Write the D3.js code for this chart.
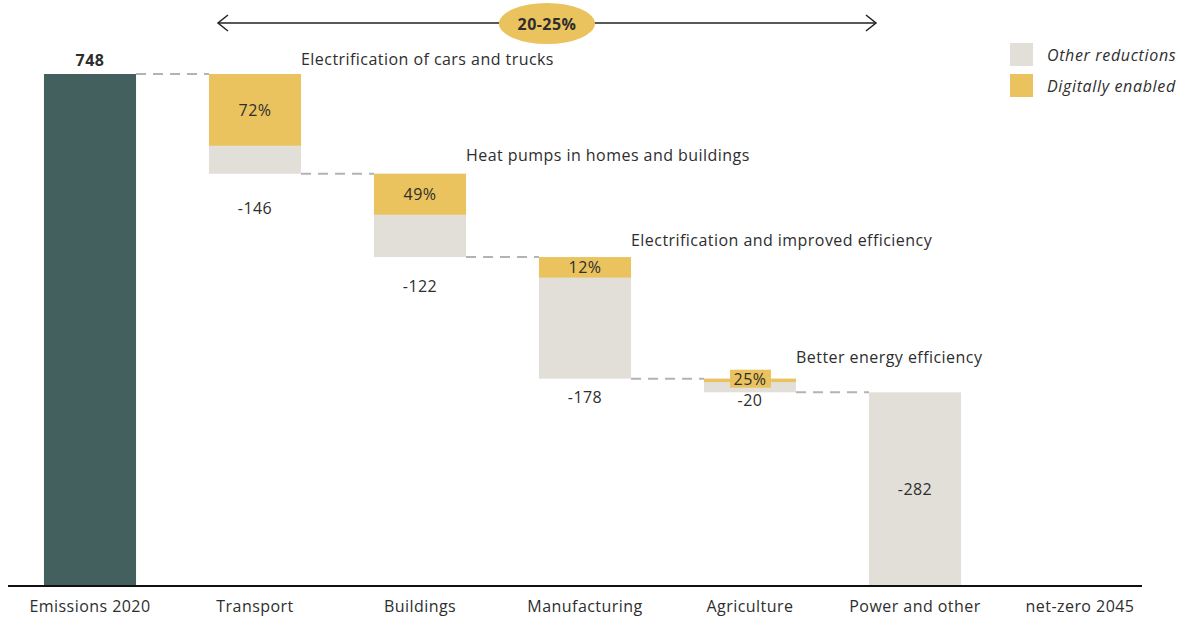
<!DOCTYPE html>
<html>
<head>
<meta charset="utf-8">
<script src="https://cdn.jsdelivr.net/npm/d3@7"></script>
<style>
  body { margin: 0; background: #fff; }
  svg { display: block; font-family: "Open Sans", "Noto Sans", sans-serif; }
  .lbl { font-size: 16px; fill: #2e2e2e; letter-spacing: 0.45px; }
  .leg { letter-spacing: 0.65px; }
</style>
</head>
<body>
<div id="chart"></div>
<script>
(function () {
  'use strict';

  var categories = ['Emissions 2020', 'Transport', 'Buildings', 'Manufacturing', 'Agriculture', 'Power and other', 'net-zero 2045'];
  var changes = [748, -146, -122, -178, -20, -282];
  var digital = [0, 105, 60, 30, 5, 0];
  var digitalLabels = ['', '72%', '49%', '12%', '25%', ''];
  var notes = ['', 'Electrification of cars and trucks', 'Heat pumps in homes and buildings', 'Electrification and improved efficiency', 'Better energy efficiency', ''];
  var legendItems = ['Other reductions', 'Digitally enabled'];
  var rangeLabel = '20-25%';

  var C_DARK = '#44605e', C_YEL = '#eac35f', C_GREY = '#e2dfd8';

  var w = 1185, h = 619;
  var svg = d3.select('#chart').append('svg').attr('width', w).attr('height', h);

  var x = d3.scaleBand().domain(categories).range([7.5, 1162.5])
    .paddingInner(0.442).paddingOuter(0.221);
  var y = d3.scaleLinear().domain([0, 748]).range([585, 74]);
  var bw = x.bandwidth();

  // running totals
  var steps = [];
  var total = 0;
  changes.forEach(function (v, i) {
    var s = total;
    total += v;
    steps.push({ i: i, cat: categories[i], v: v, start: s, end: total });
  });

  // connectors
  var conn = steps.slice(0, -1);
  svg.append('g').selectAll('line').data(conn).enter().append('line')
    .attr('x1', function (d) { return x(d.cat) + bw; })
    .attr('x2', function (d) { return x(categories[d.i + 1]); })
    .attr('y1', function (d) { return y(d.end); })
    .attr('y2', function (d) { return y(d.end); })
    .attr('stroke', '#b3b3b3').attr('stroke-width', 2)
    .attr('stroke-dasharray', '10,7');

  // bars
  var bars = svg.append('g');
  bars.selectAll('rect.main').data(steps).enter().append('rect')
    .attr('x', function (d) { return x(d.cat); })
    .attr('width', bw)
    .attr('y', function (d) { return y(Math.max(d.start, d.end)); })
    .attr('height', function (d) { return Math.abs(y(d.start) - y(d.end)); })
    .attr('fill', function (d) { return d.i === 0 ? C_DARK : C_GREY; });

  var dig = steps.filter(function (d) { return digital[d.i] > 0; });
  bars.selectAll('rect.dig').data(dig).enter().append('rect')
    .attr('x', function (d) { return x(d.cat); })
    .attr('width', bw)
    .attr('y', function (d) { return y(d.start); })
    .attr('height', function (d) { return y(d.start - digital[d.i]) - y(d.start); })
    .attr('fill', C_YEL);

  // axis baseline + labels
  svg.append('line').attr('x1', 8).attr('x2', 1142).attr('y1', 586).attr('y2', 586)
    .attr('stroke', '#111').attr('stroke-width', 2);
  svg.append('g').selectAll('text').data(categories).enter().append('text')
    .attr('class', 'lbl')
    .attr('x', function (d) { return x(d) + bw / 2; })
    .attr('y', 612)
    .attr('text-anchor', 'middle')
    .text(function (d) { return d; });

  // start value
  svg.append('text').attr('class', 'lbl')
    .attr('x', x(categories[0]) + bw / 2).attr('y', y(748) - 8)
    .attr('text-anchor', 'middle').attr('font-weight', 'bold')
    .text(changes[0]);

  // digital share labels
  var pctG = svg.append('g');
  dig.forEach(function (d) {
    var top = y(d.start), bot = y(d.start - digital[d.i]);
    var cy = (top + bot) / 2;
    if (bot - top < 14) {
      pctG.append('rect').attr('x', x(d.cat) + bw / 2 - 20).attr('y', top - 9)
        .attr('width', 41).attr('height', 18).attr('fill', C_YEL);
      cy = top;
    }
    pctG.append('text').attr('class', 'lbl')
      .attr('x', x(d.cat) + bw / 2).attr('y', cy + 6)
      .attr('text-anchor', 'middle').text(digitalLabels[d.i]);
  });

  // value labels under reductions
  var valueDy = [0, 40, 35, 24, 14];
  steps.slice(1).forEach(function (d) {
    var last = d.i === steps.length - 1;
    svg.append('text').attr('class', 'lbl')
      .attr('x', x(d.cat) + bw / 2)
      .attr('y', last ? (y(d.start) + y(d.end)) / 2 + 6 : y(d.end) + valueDy[d.i])
      .attr('text-anchor', 'middle').text(d.v);
  });

  // notes
  var noteDy = [0, 9, 13, 11, 16];
  steps.forEach(function (d) {
    if (!notes[d.i]) return;
    svg.append('text').attr('class', 'lbl')
      .attr('x', x(d.cat) + bw).attr('y', y(d.start) - noteDy[d.i])
      .text(notes[d.i]);
  });

  // range arrow
  var ax1 = x('Transport') + 9, ax2 = x('Power and other') + 7, ay = 23;
  var arrow = svg.append('g').attr('stroke', '#222').attr('stroke-width', 1.5).attr('fill', 'none');
  arrow.append('line').attr('x1', ax1).attr('x2', ax2).attr('y1', ay).attr('y2', ay);
  arrow.append('path').attr('d', 'M' + (ax1 + 10) + ',' + (ay - 8) + 'L' + ax1 + ',' + ay + 'L' + (ax1 + 10) + ',' + (ay + 8));
  arrow.append('path').attr('d', 'M' + (ax2 - 10) + ',' + (ay - 8) + 'L' + ax2 + ',' + ay + 'L' + (ax2 - 10) + ',' + (ay + 8));
  var mx = (ax1 + ax2) / 2;
  svg.append('ellipse').attr('cx', mx).attr('cy', ay + 0.5).attr('rx', 48).attr('ry', 20.5).attr('fill', C_YEL);
  svg.append('text').attr('class', 'lbl').attr('x', mx).attr('y', ay + 6.5)
    .attr('text-anchor', 'middle').attr('font-weight', 'bold').text(rangeLabel);

  // legend
  var lg = svg.append('g').attr('transform', 'translate(1010,43)');
  legendItems.forEach(function (t, i) {
    lg.append('rect').attr('x', 0).attr('y', i * 31).attr('width', 23).attr('height', 23)
      .attr('fill', i === 0 ? C_GREY : C_YEL);
    lg.append('text').attr('class', 'lbl leg').attr('x', 37).attr('y', i * 31 + 17.5)
      .attr('font-style', 'italic').text(t);
  });
})();
</script>
</body>
</html>
